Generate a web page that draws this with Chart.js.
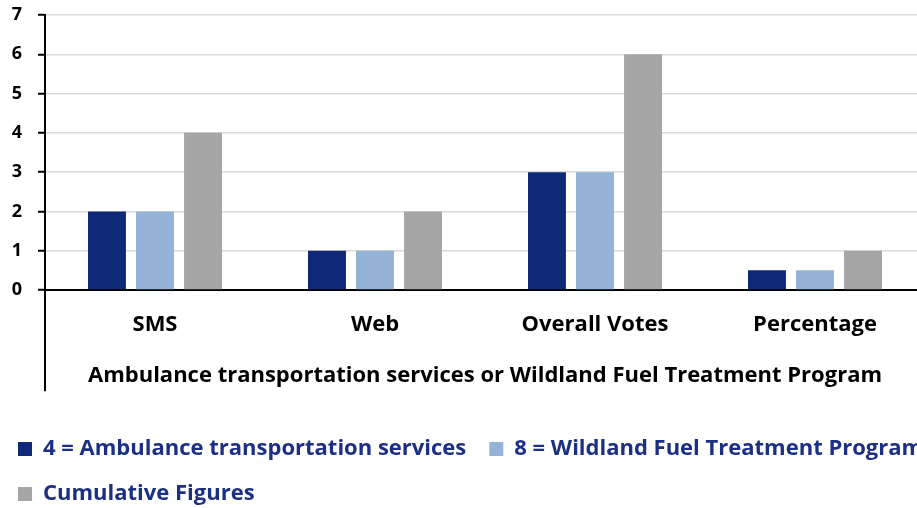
<!DOCTYPE html>
<html>
<head>
<meta charset="utf-8">
<script src="https://cdn.jsdelivr.net/npm/chart.js@4/dist/chart.umd.min.js"></script>
<style>
  html, body { margin: 0; padding: 0; background: #fff; overflow: hidden; width: 917px; height: 508px; }
  #wrap { position: relative; margin-left: -5px; width: 1010px; height: 515px; }
  canvas { display: block; }
</style>
</head>
<body>
<div id="wrap"><canvas id="chart" width="1010" height="515"></canvas></div>
<script>
// Votes per channel for the two options and their combined total
const categories = ['SMS', 'Web', 'Overall Votes', 'Percentage'];
const ambulanceVotes = [2, 1, 3, 0.5];
const wildlandVotes = [2, 1, 3, 0.5];
const cumulativeVotes = [4, 2, 6, 1];
const seriesNames = [
  '4 = Ambulance transportation services',
  '8 = Wildland Fuel Treatment Program',
  'Cumulative Figures'
];
const axisTitle = 'Ambulance transportation services or Wildland Fuel Treatment Program';
const yMin = 0, yMax = 7, yStep = 1;

const FONT = '"Open Sans"';
Chart.defaults.font.family = FONT;
Chart.defaults.font.weight = 700;

// Left border of the category axis continues down past the labels to the title
const categoryAxisEdge = {
  id: 'categoryAxisEdge',
  afterDraw(chart) {
    const x = chart.scales.x;
    const ctx = chart.ctx;
    const padBottom = chart.options.scales.x.title.padding.bottom;
    ctx.save();
    ctx.strokeStyle = '#000';
    ctx.lineWidth = 2;
    ctx.beginPath();
    ctx.moveTo(chart.chartArea.left, chart.chartArea.bottom);
    ctx.lineTo(chart.chartArea.left, x.bottom - padBottom + 2);
    ctx.stroke();
    ctx.restore();
  }
};

new Chart(document.getElementById('chart'), {
  type: 'bar',
  data: {
    labels: categories,
    datasets: [
      { label: seriesNames[0], data: ambulanceVotes, backgroundColor: '#0f2878', borderWidth: 0 },
      { label: seriesNames[1], data: wildlandVotes, backgroundColor: '#95b3d7', borderWidth: 0 },
      { label: seriesNames[2], data: cumulativeVotes, backgroundColor: '#a6a6a6', borderWidth: 0 }
    ]
  },
  options: {
    responsive: false,
    animation: false,
    devicePixelRatio: 1,
    layout: { padding: 0 },
    datasets: { bar: { categoryPercentage: 0.655, barPercentage: 0.79 } },
    plugins: {
      tooltip: { enabled: false },
      legend: {
        position: 'bottom',
        align: 'start',
        labels: {
          color: '#1b2f83',
          font: { family: FONT, size: 22, weight: 700 },
          boxWidth: 14,
          boxHeight: 14,
          padding: 23
        }
      }
    },
    scales: {
      x: {
        grid: { display: false, drawTicks: false },
        border: { display: true, color: '#000', width: 2 },
        ticks: { color: '#000', font: { size: 22, weight: 700 }, padding: 21.8, maxRotation: 0 },
        title: {
          display: true,
          text: axisTitle,
          color: '#000',
          font: { size: 22, weight: 700 },
          padding: { top: 2.8, bottom: 25.8 }
        }
      },
      y: {
        min: yMin,
        max: yMax,
        grid: {
          color: (c) => (c.tick && c.tick.value === 0 ? 'rgba(0,0,0,0)' : '#d9d9d9'),
          lineWidth: 1.5,
          tickColor: '#000',
          tickWidth: 2,
          tickLength: 7
        },
        border: { display: true, color: '#000', width: 2 },
        ticks: { stepSize: yStep, color: '#000', font: { size: 18, weight: 700 }, padding: 16 },
        afterFit(scale) {
          scale.width = 50;
          scale.paddingTop = 15;
        }
      },
      spare: {
        type: 'linear',
        position: 'right',
        grid: { display: false, drawTicks: false },
        border: { display: false },
        ticks: { display: false },
        afterFit(scale) { scale.width = 80; }
      }
    }
  },
  plugins: [categoryAxisEdge]
});
</script>
</body>
</html>
